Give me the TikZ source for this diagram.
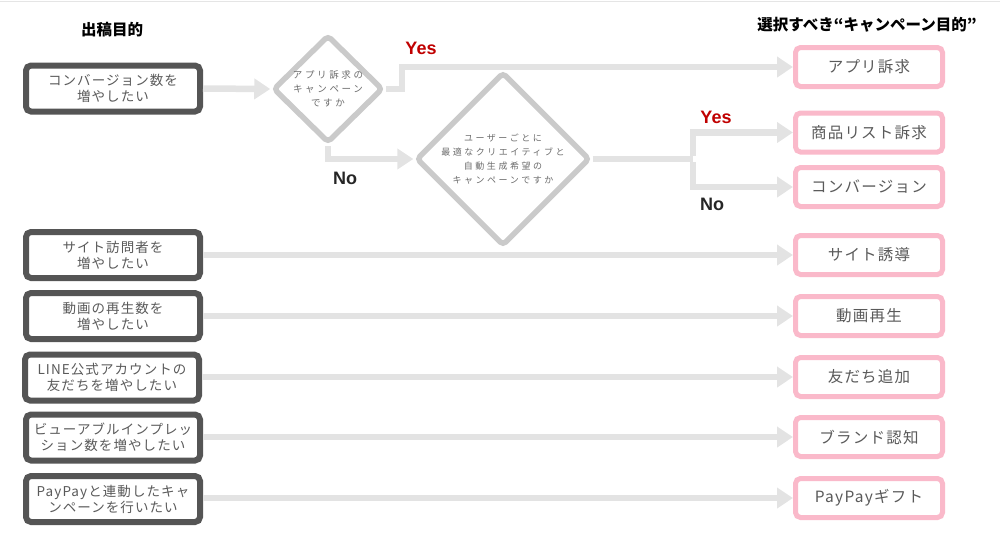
\documentclass[tikz,border=0pt]{standalone}
\usepackage{fontspec}
\setmainfont{Noto Sans CJK JP}
\newfontfamily\jpsp[LetterSpace=8]{Noto Sans CJK JP}
\newfontfamily\jpdia[LetterSpace=28]{Noto Sans CJK JP}
\newfontfamily\latb{Liberation Sans}
\usetikzlibrary{arrows.meta,shapes.geometric}
\definecolor{darkbox}{HTML}{555555}
\definecolor{pinkbox}{RGB}{250,185,202}
\definecolor{diagray}{HTML}{CACACA}
\definecolor{arrgray}{HTML}{E3E3E3}
\definecolor{txtgray}{HTML}{5A5A5A}
\definecolor{yesred}{HTML}{C00000}
\begin{document}
\begin{tikzpicture}[x=1pt,y=-1pt,
  goalbox/.style={draw=darkbox,line width=6pt,rounded corners=5pt,fill=white,
    minimum width=174pt,minimum height=46pt,inner sep=0pt,align=center,
    text=txtgray,font=\jpsp\fontsize{13.5}{16}\selectfont},
  objbox/.style={draw=pinkbox,line width=5pt,rounded corners=5pt,fill=white,
    minimum width=147pt,minimum height=39pt,inner sep=0pt,align=center,
    text=txtgray,font=\jpsp\fontsize{15.5}{18}\selectfont},
  decision/.style={diamond,draw=diagray,line width=5.5pt,rounded corners=4pt,
    inner sep=0pt,align=center,text=txtgray!90},
  arr/.style={draw=arrgray,line width=6.5pt,-{Triangle[length=16pt,width=20pt]}},
  ln/.style={draw=arrgray,line width=6.5pt},
  hdr/.style={font=\bfseries\fontsize{15.5}{18}\selectfont,text=black},
  yes/.style={font=\latb\bfseries\fontsize{18}{20}\selectfont,text=yesred},
  no/.style={font=\latb\bfseries\fontsize{18}{20}\selectfont,text=black!85}]
\useasboundingbox (0,0) rectangle (1000,542);
\draw[gray!20,line width=1pt] (0,1) -- (1000,1);

% headers
\node[hdr] (h1) at (112,30) {出稿目的};
\node[hdr] (h2) at (867,25) {選択すべき“キャンペーン目的”};

% left goal boxes
\node[goalbox] (g1) at (113,88.5) {コンバージョン数を\\増やしたい};
\node[goalbox] (g2) at (113,255) {サイト訪問者を\\増やしたい};
\node[goalbox] (g3) at (113,316) {動画の再生数を\\増やしたい};
\node[goalbox] (g4) at (112,377.5) {LINE公式アカウントの\\友だちを増やしたい};
\node[goalbox] (g5) at (113,437.5) {ビューアブルインプレッ\\ション数を増やしたい};
\node[goalbox] (g6) at (113,499) {PayPayと連動したキャ\\ンペーンを行いたい};

% right objective boxes
\node[objbox] (r1) at (869,67) {アプリ訴求};
\node[objbox] (r2) at (869,132.5) {商品リスト訴求};
\node[objbox] (r3) at (869,187) {コンバージョン};
\node[objbox] (r4) at (869,255) {サイト誘導};
\node[objbox] (r5) at (869,316) {動画再生};
\node[objbox] (r6) at (869,377) {友だち追加};
\node[objbox] (r7) at (869,437) {ブランド認知};
\node[objbox] (r8) at (869,498) {PayPayギフト};

% decisions
\node[decision,minimum width=110pt,minimum height=108pt,
  font=\jpdia\fontsize{9.5}{14}\selectfont] (d1) at (328,89)
  {アプリ訴求の\\キャンペーン\\ですか};
\node[decision,minimum width=167pt,minimum height=166pt,
  font=\jpdia\fontsize{9}{14}\selectfont] (d2) at (503,159)
  {ユーザーごとに\\最適なクリエイティブと\\自動生成希望の\\キャンペーンですか};

% connectors
\draw[arr] (g1.east) -- (d1.west);
\draw[arr] (d1.east) -- ++(16,0) |- (r1.west);
\draw[arr] (d1.south) |- (d2.west);
\coordinate (split) at (693,159);
\draw[ln] (d2.east) -- (split);
\draw[arr] ([yshift=3.25pt]split) |- (r2.west);
\draw[arr] ([yshift=-3.25pt]split) |- (r3.west);

\draw[arr] (g2.east) -- (r4.west);
\draw[arr] (g3.east) -- (r5.west);
\draw[arr] (g4.east |- r6.west) -- (r6.west);
\draw[arr] (g5.east |- r7.west) -- (r7.west);
\draw[arr] (g6.east |- r8.west) -- (r8.west);

% labels
\node[yes] (y1) at (421,48) {Yes};
\node[no] (n1) at (345,178) {No};
\node[yes] (y2) at (716,117) {Yes};
\node[no] (n2) at (712,204) {No};
\end{tikzpicture}
\end{document}
